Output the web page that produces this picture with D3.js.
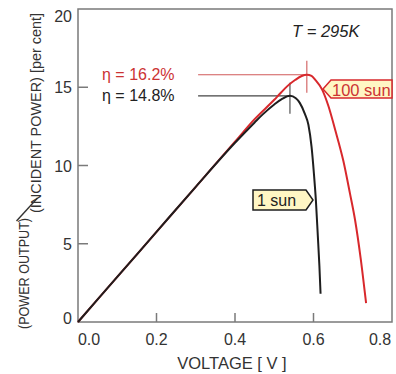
<!DOCTYPE html>
<html>
<head>
<meta charset="utf-8">
<script src="https://cdn.jsdelivr.net/npm/d3@7"></script>
<style>
  body { margin: 0; background: #fff; }
  text { font-family: "Liberation Sans", Arial, sans-serif; }
</style>
</head>
<body>
<div id="chart"></div>
<script>
// 1 sun curve
const volt1 = [0, 0.1, 0.2, 0.3, 0.4, 0.45, 0.47, 0.5, 0.52, 0.54, 0.555, 0.565, 0.578, 0.587, 0.595, 0.601, 0.606, 0.611, 0.615, 0.618];
const power1 = [0, 2.88, 5.76, 8.64, 11.45, 12.75, 13.25, 13.9, 14.25, 14.45, 14.3, 14.0, 13.3, 12.6, 11.2, 9.5, 7.8, 5.5, 3.6, 1.8];

// 100 sun curve
const volt100 = [0, 0.1, 0.2, 0.3, 0.4, 0.45, 0.5, 0.515, 0.532, 0.553, 0.57, 0.583, 0.595, 0.605, 0.622, 0.638, 0.655, 0.676, 0.693, 0.706, 0.72, 0.734];
const power100 = [0, 2.88, 5.76, 8.64, 11.52, 12.96, 14.2, 14.6, 15.04, 15.46, 15.72, 15.8, 15.72, 15.46, 14.85, 13.8, 12.3, 10.3, 8.2, 6.5, 4.1, 1.2];

const peakVolt = [0.54, 0.583];
const peakPower = [14.45, 15.8];
const peakLabels = ['η = 14.8%', 'η = 16.2%'];
const curveNames = ['1 sun', '100 sun'];

const xTicks = [0, 0.2, 0.4, 0.6, 0.8];
const yTicks = [0, 5, 10, 15, 20];

const red = '#d8282c';
const black = '#1e1e1e';

const width = 396, height = 374;
const margin = {top: 9, right: 4, bottom: 52, left: 78};

const svg = d3.select('#chart').append('svg')
  .attr('width', width)
  .attr('height', height);

const x = d3.scaleLinear().domain([0, 0.8]).range([margin.left, width - margin.right]);
const y = d3.scaleLinear().domain([0, 20]).range([height - margin.bottom, margin.top]);

// frame
svg.append('rect')
  .attr('x', x(0)).attr('y', y(20))
  .attr('width', x(0.8) - x(0)).attr('height', y(0) - y(20))
  .attr('fill', 'none').attr('stroke', '#7a7a7a').attr('stroke-width', 1.5);

// inward ticks
svg.selectAll('.xtick').data(xTicks.slice(1, -1)).enter().append('line')
  .attr('x1', d => x(d)).attr('x2', d => x(d))
  .attr('y1', y(0)).attr('y2', y(0) - 9)
  .attr('stroke', '#7a7a7a').attr('stroke-width', 1.5);
svg.selectAll('.ytick').data(yTicks.slice(1, -1)).enter().append('line')
  .attr('x1', x(0)).attr('x2', x(0) + 10)
  .attr('y1', d => y(d)).attr('y2', d => y(d))
  .attr('stroke', '#7a7a7a').attr('stroke-width', 1.5);

// tick labels, end ones pulled inwards a bit
svg.selectAll('.xlab').data(xTicks).enter().append('text')
  .attr('x', d => Math.min(Math.max(x(d), x(0) + 11), x(0.8) - 12))
  .attr('y', y(0) + 23)
  .attr('text-anchor', 'middle')
  .attr('font-size', 16)
  .attr('fill', '#333')
  .text(d => d.toFixed(1));
svg.selectAll('.ylab').data(yTicks).enter().append('text')
  .attr('x', x(0) - 6)
  .attr('y', d => Math.min(Math.max(y(d), y(20) + 7), y(0) - 4) + 6)
  .attr('text-anchor', 'end')
  .attr('font-size', 16)
  .attr('fill', '#333')
  .text(d => d);

// axis titles
svg.append('text')
  .attr('x', (x(0) + x(0.8)) / 2 - 3)
  .attr('y', height - 5)
  .attr('text-anchor', 'middle')
  .attr('font-size', 16.5)
  .attr('fill', '#333')
  .text('VOLTAGE [ V ]');

const yt = svg.append('g').attr('transform', 'translate(28.5,329) rotate(-90)');
yt.append('text')
  .attr('x', 0).attr('y', 0)
  .attr('font-size', 14).attr('fill', '#333')
  .attr('textLength', 111).attr('lengthAdjust', 'spacingAndGlyphs')
  .text('(POWER OUTPUT)');
yt.append('line')
  .attr('x1', 108).attr('y1', -12).attr('x2', 131).attr('y2', 9)
  .attr('stroke', '#333').attr('stroke-width', 1.4);
yt.append('text')
  .attr('x', 116).attr('y', 12)
  .attr('font-size', 14).attr('fill', '#333')
  .attr('textLength', 200).attr('lengthAdjust', 'spacingAndGlyphs')
  .text('(INCIDENT POWER) [per cent]');

svg.append('text')
  .attr('x', 292).attr('y', 37)
  .attr('font-size', 16.5).attr('font-style', 'italic').attr('fill', '#222')
  .text('T = 295K');

// peak markers
peakVolt.forEach((v, i) => {
  svg.append('line')
    .attr('x1', x(0.306)).attr('x2', x(v))
    .attr('y1', y(peakPower[i])).attr('y2', y(peakPower[i]))
    .attr('stroke', i ? '#d05a5a' : '#444').attr('stroke-width', 1.1);
  svg.append('line')
    .attr('x1', x(v)).attr('x2', x(v))
    .attr('y1', y(peakPower[i]) - (i ? 14 : 13)).attr('y2', y(peakPower[i]) + 18)
    .attr('stroke', i ? '#d05a5a' : '#444').attr('stroke-width', 1.1);
  svg.append('text')
    .attr('x', 102).attr('y', y(peakPower[i]) + 5.5)
    .attr('font-size', 16)
    .attr('fill', i ? '#cc3333' : '#222')
    .text(peakLabels[i]);
});

// curves
const line = d3.line()
  .x(d => x(d[0]))
  .y(d => y(d[1]))
  .curve(d3.curveMonotoneX);

svg.append('path')
  .datum(volt100.map((v, i) => [v, power100[i]]))
  .attr('d', line)
  .attr('fill', 'none').attr('stroke', red).attr('stroke-width', 2);
svg.append('path')
  .datum(volt1.map((v, i) => [v, power1[i]]))
  .attr('d', line)
  .attr('fill', 'none').attr('stroke', black).attr('stroke-width', 2);

// curve tags
const fillTag = '#fff6c4';
// 100 sun: arrow points left
svg.append('path')
  .attr('d', `M323,89 L331,80 L392,80 L392,98 L331,98 Z`)
  .attr('fill', fillTag).attr('stroke', red).attr('stroke-width', 1.5);
svg.append('text')
  .attr('x', 332).attr('y', 95.5)
  .attr('font-size', 16.5).attr('fill', '#cc3333')
  .text(curveNames[1]);
// 1 sun: arrow points right
svg.append('path')
  .attr('d', `M253,190 L306,190 L313,200 L306,210 L253,210 Z`)
  .attr('fill', fillTag).attr('stroke', black).attr('stroke-width', 1.5);
svg.append('text')
  .attr('x', 257).attr('y', 206)
  .attr('font-size', 16).attr('fill', '#222')
  .text(curveNames[0]);
</script>
</body>
</html>
